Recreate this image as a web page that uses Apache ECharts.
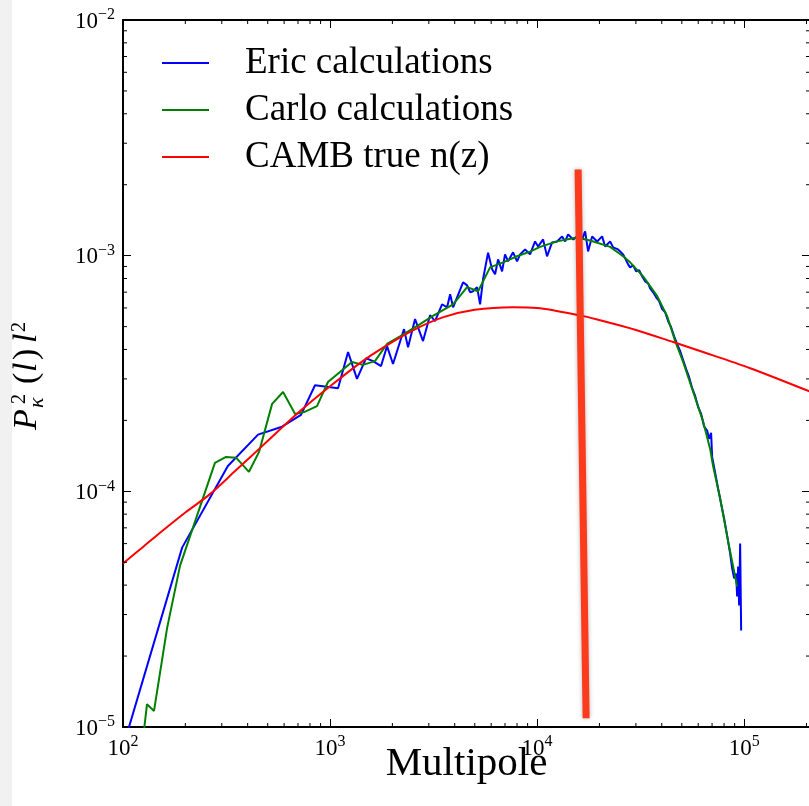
<!DOCTYPE html>
<html><head><meta charset="utf-8">
<script src="https://cdn.jsdelivr.net/npm/echarts@6.0.0/dist/echarts.min.js"></script>
<style>
html,body{margin:0;padding:0;background:#fff;}
#strip{position:absolute;left:0;top:0;width:12px;height:806px;background:#f1f1f1;}
#chart{position:absolute;left:0;top:0;width:809px;height:806px;}
</style></head><body><div id="strip"></div><div id="chart"></div>
<script>
// ---- data (multipole l, P_kappa^2(l) l^2) ----
const ericData = [
  [100,8.2e-6],[193,5.77e-5],[321,1.28e-4],[449,1.74e-4],[586,1.88e-4],[724,2.11e-4],
  [846,2.82e-4],[1093,2.74e-4],[1222,3.90e-4],[1349,3.00e-4],[1493,3.67e-4],[1614,3.57e-4],
  [1763,3.40e-4],[1884,4.13e-4],[2014,3.47e-4],[2276,4.88e-4],[2381,4.09e-4],[2574,5.38e-4],
  [2812,4.34e-4],[3041,5.59e-4],[3214,5.27e-4],[3475,6.22e-4],[3675,6.04e-4],[3802,6.86e-4],
  [3929,6.04e-4],[4390,7.71e-4],[4592,7.48e-4],[4746,7.00e-4],[4909,7.06e-4],[5129,7.35e-4],
  [5305,6.22e-4],[5483,7.94e-4],[5797,1.03e-3],[6062,8.75e-4],[6268,8.34e-4],[6480,9.64e-4],
  [6776,8.58e-4],[7000,1.013e-3],[7244,9.46e-4],[7656,1.033e-3],[8004,9.46e-4],[8277,1.013e-3],
  [8750,1.063e-3],[9247,1.013e-3],[9775,1.149e-3],[10110,1.094e-3],[10690,1.172e-3],[11170,9.93e-4],
  [11810,1.138e-3],[12490,1.149e-3],[13210,1.207e-3],[13660,1.149e-3],[14120,1.231e-3],[14940,1.172e-3],
  [15600,1.207e-3],[16490,1.172e-3],[17060,1.268e-3],[17630,1.042e-3],[18440,1.207e-3],[19500,1.149e-3],
  [20610,1.207e-3],[21310,1.094e-3],[22530,1.149e-3],[23290,1.084e-3],[24620,1.063e-3],[26030,1.013e-3],
  [27520,9.18e-4],[28140,8.92e-4],[29100,9.10e-4],[30080,8.58e-4],[31100,8.67e-4],[32150,8.18e-4],
  [33240,7.78e-4],[34380,7.63e-4],[35150,7.27e-4],[36340,6.99e-4],[37580,6.66e-4],[38860,6.41e-4],
  [40180,5.93e-4],[41540,5.75e-4],[42950,5.27e-4],[44400,4.97e-4],[45910,4.55e-4],[47470,4.21e-4],
  [49070,3.94e-4],[50740,3.61e-4],[52460,3.30e-4],[54240,3.05e-4],[56090,2.74e-4],[57990,2.54e-4],
  [59960,2.28e-4],[62000,2.13e-4],[64110,1.88e-4],[66280,1.81e-4],[67770,1.67e-4],[69260,1.77e-4],
  [70040,1.40e-4],[72430,1.20e-4],[74880,1.026e-4],[77420,8.86e-5],[80060,7.66e-5],[82780,6.49e-5],
  [85590,5.44e-5],[87510,4.71e-5],[89470,4.27e-5],[91480,4.48e-5],[92500,3.58e-5],[93540,4.80e-5],
  [94580,3.28e-5],[95650,6.00e-5],[96720,2.57e-5]
];
const carloData = [
  [126,9.5e-6],[130.6,1.25e-5],[141.2,1.17e-5],[163.2,2.62e-5],[188.6,4.84e-5],[278,1.32e-4],
  [314.5,1.40e-4],[351.6,1.39e-4],[406,1.21e-4],[454,1.47e-4],[525,2.35e-4],[593,2.64e-4],
  [678,2.13e-4],[749,2.17e-4],[865,2.30e-4],[977,2.91e-4],[1276,3.54e-4],[1442,3.44e-4],
  [1648,3.57e-4],[1884,4.22e-4],[2178,4.55e-4],[2721,5.12e-4],[3110,5.53e-4],[3929,6.22e-4],
  [4592,7.35e-4],[5188,7.06e-4],[5930,8.92e-4],[6851,9.37e-4],[8004,9.94e-4],[9247,1.04e-3],
  [10340,1.09e-3],[12490,1.15e-3],[15600,1.195e-3],[18030,1.16e-3],[22530,1.09e-3],[26030,9.94e-4],
  [28140,9.37e-4],[32510,8.17e-4],[38020,6.73e-4],[42490,5.53e-4],[46450,4.34e-4],[50740,3.54e-4],
  [56760,2.64e-4],[63440,1.97e-4],[68540,1.51e-4],[70800,1.28e-4],[76600,9.31e-5],[83720,6.12e-5],
  [92540,3.94e-5]
];
const cambData = [
  [100,4.94e-5],[125,5.81e-5],[150,6.64e-5],[200,8.13e-5],[263,9.73e-5],[350,1.225e-4],
  [474,1.567e-4],[717,2.19e-4],[1000,2.79e-4],[1400,3.51e-4],[1803,4.07e-4],[2500,4.81e-4],
  [3500,5.47e-4],[5000,5.89e-4],[7656,6.04e-4],[10000,6.0e-4],[16150,5.58e-4],[20140,5.32e-4],
  [30000,4.84e-4],[45400,4.30e-4],[61200,3.94e-4],[107000,3.33e-4],[208000,2.65e-4]
];
// hand-drawn annotation stroke (end points in data units)
const markerLine = [[15780,2.32e-3],[17250,1.09e-5]];
const seriesNames = ['Eric calculations','Carlo calculations','CAMB true n(z)'];
const xMinorTicks = [200,300,400,500,600,700,800,900,2000,3000,4000,5000,6000,7000,8000,9000,
  20000,30000,40000,50000,60000,70000,80000,90000,200000];
const yMinorTicks = [2e-5,3e-5,4e-5,5e-5,6e-5,7e-5,8e-5,9e-5,2e-4,3e-4,4e-4,5e-4,6e-4,7e-4,8e-4,9e-4,
  2e-3,3e-3,4e-3,5e-3,6e-3,7e-3,8e-3,9e-3];
const X_MIN = 100, X_MAX = 208000, Y_MIN = 1e-5, Y_MAX = 1e-2;

const FONT = 'Liberation Serif';
function powLabel(v){
  const e = Math.round(Math.log10(v));
  if (Math.abs(v/Math.pow(10,e) - 1) > 1e-6) return '';
  return '{b|10}{s|' + (e < 0 ? '\u2212' + (-e) : e) + '}';
}
const rich = {
  b:{fontFamily:FONT,fontSize:23,lineHeight:26,verticalAlign:'bottom',color:'#000'},
  s:{fontFamily:FONT,fontSize:16,lineHeight:16,verticalAlign:'top',color:'#000'}
};
const axisLine = {show:true,onZero:false,lineStyle:{color:'#000',width:2}};
const axisTick = {show:true,inside:true,length:8,lineStyle:{color:'#000',width:1}};

const chart = echarts.init(document.getElementById('chart'), null, {renderer:'canvas'});
function txt(t, x, y, size, italic){
  return {type:'text', x:x, y:y, style:{text:t, fontFamily:FONT, fontSize:size,
    fontStyle: italic ? 'italic' : 'normal', fill:'#000', align:'left', verticalAlign:'middle'}};
}
const option = {
  animation:false,
  backgroundColor:'transparent',
  grid:{left:123, right:-1, top:20, bottom:79, show:false, outerBoundsMode:'none', containLabel:false},
  legend:{
    data:seriesNames, orient:'vertical', left:157, top:38, itemWidth:47, itemHeight:2, itemGap:7,
    icon:'rect', selectedMode:false,
    textStyle:{fontFamily:FONT, fontSize:37, lineHeight:40, color:'#000', padding:[0,0,0,31]}
  },
  xAxis:[
    {type:'log', min:X_MIN, max:X_MAX, position:'bottom', axisLine:axisLine, axisTick:axisTick,
     axisLabel:{formatter:powLabel, rich:rich, margin:7, showMaxLabel:false, hideOverlap:false},
     splitLine:{show:false},
     name:'Multipole', nameLocation:'middle', nameGap:17, nameMoveOverlap:false,
     nameTextStyle:{fontFamily:FONT, fontSize:41, lineHeight:41, color:'#000'}},
    {type:'log', min:X_MIN, max:X_MAX, position:'top', axisLine:axisLine, axisTick:axisTick,
     axisLabel:{show:false}, splitLine:{show:false}}
  ],
  yAxis:[
    {type:'log', min:Y_MIN, max:Y_MAX, position:'left', axisLine:axisLine, axisTick:axisTick,
     axisLabel:{formatter:powLabel, rich:rich, margin:8, hideOverlap:false}, splitLine:{show:false}},
    {type:'log', min:Y_MIN, max:Y_MAX, position:'right', axisLine:axisLine, axisTick:axisTick,
     axisLabel:{show:false}, splitLine:{show:false}}
  ],
  graphic:[{
    type:'group', x:39, y:430, rotation:Math.PI/2, silent:true,
    children:[
      txt('P', 0, -12, 34, true),
      txt('\u03BA', 22, -2, 22, true),
      txt('2', 26, -19, 20, false),
      txt('(', 46, -12, 34, false),
      txt('l', 58, -12, 34, true),
      txt(')', 70, -12, 34, false),
      txt('l', 87, -12, 34, true),
      txt('2', 98, -19, 20, false)
    ]
  }],
  series:[
    {name:seriesNames[0], type:'line', data:ericData, showSymbol:false, symbol:'none',
     lineStyle:{color:'#0000ff', width:2}, itemStyle:{color:'#0000ff'}, z:2},
    {name:seriesNames[1], type:'line', data:carloData, showSymbol:false, symbol:'none',
     lineStyle:{color:'#008000', width:2}, itemStyle:{color:'#008000'}, z:3},
    {name:seriesNames[2], type:'line', data:cambData, showSymbol:false, symbol:'none', smooth:0.3,
     lineStyle:{color:'#ff0000', width:2}, itemStyle:{color:'#ff0000'}, z:4},
    {name:'annotation', type:'line', data:markerLine, showSymbol:false, symbol:'none', silent:true,
     lineStyle:{color:'#fc3a1c', width:7, shadowBlur:4, shadowColor:'rgba(0,0,0,0.3)'}, z:6},
    {name:'xminor', type:'custom', coordinateSystem:'cartesian2d', silent:true, clip:false, z:5,
     data:xMinorTicks.map(v => [v, Y_MIN]),
     renderItem:function(params, api){
       const v = api.value(0);
       const b = api.coord([v, Y_MIN]), t = api.coord([v, Y_MAX]);
       const st = {stroke:'#000', lineWidth:1};
       return {type:'group', children:[
         {type:'line', shape:{x1:b[0],y1:b[1],x2:b[0],y2:b[1]-4}, style:st},
         {type:'line', shape:{x1:t[0],y1:t[1],x2:t[0],y2:t[1]+4}, style:st}
       ]};
     }},
    {name:'yminor', type:'custom', coordinateSystem:'cartesian2d', silent:true, clip:false, z:5,
     data:yMinorTicks.map(v => [X_MIN, v]),
     renderItem:function(params, api){
       const v = api.value(1);
       const l = api.coord([X_MIN, v]), r = api.coord([X_MAX, v]);
       const st = {stroke:'#000', lineWidth:1};
       return {type:'group', children:[
         {type:'line', shape:{x1:l[0],y1:l[1],x2:l[0]+4,y2:l[1]}, style:st},
         {type:'line', shape:{x1:r[0],y1:r[1],x2:r[0]-4,y2:r[1]}, style:st}
       ]};
     }}
  ]
};
chart.setOption(option);
</script></body></html>
